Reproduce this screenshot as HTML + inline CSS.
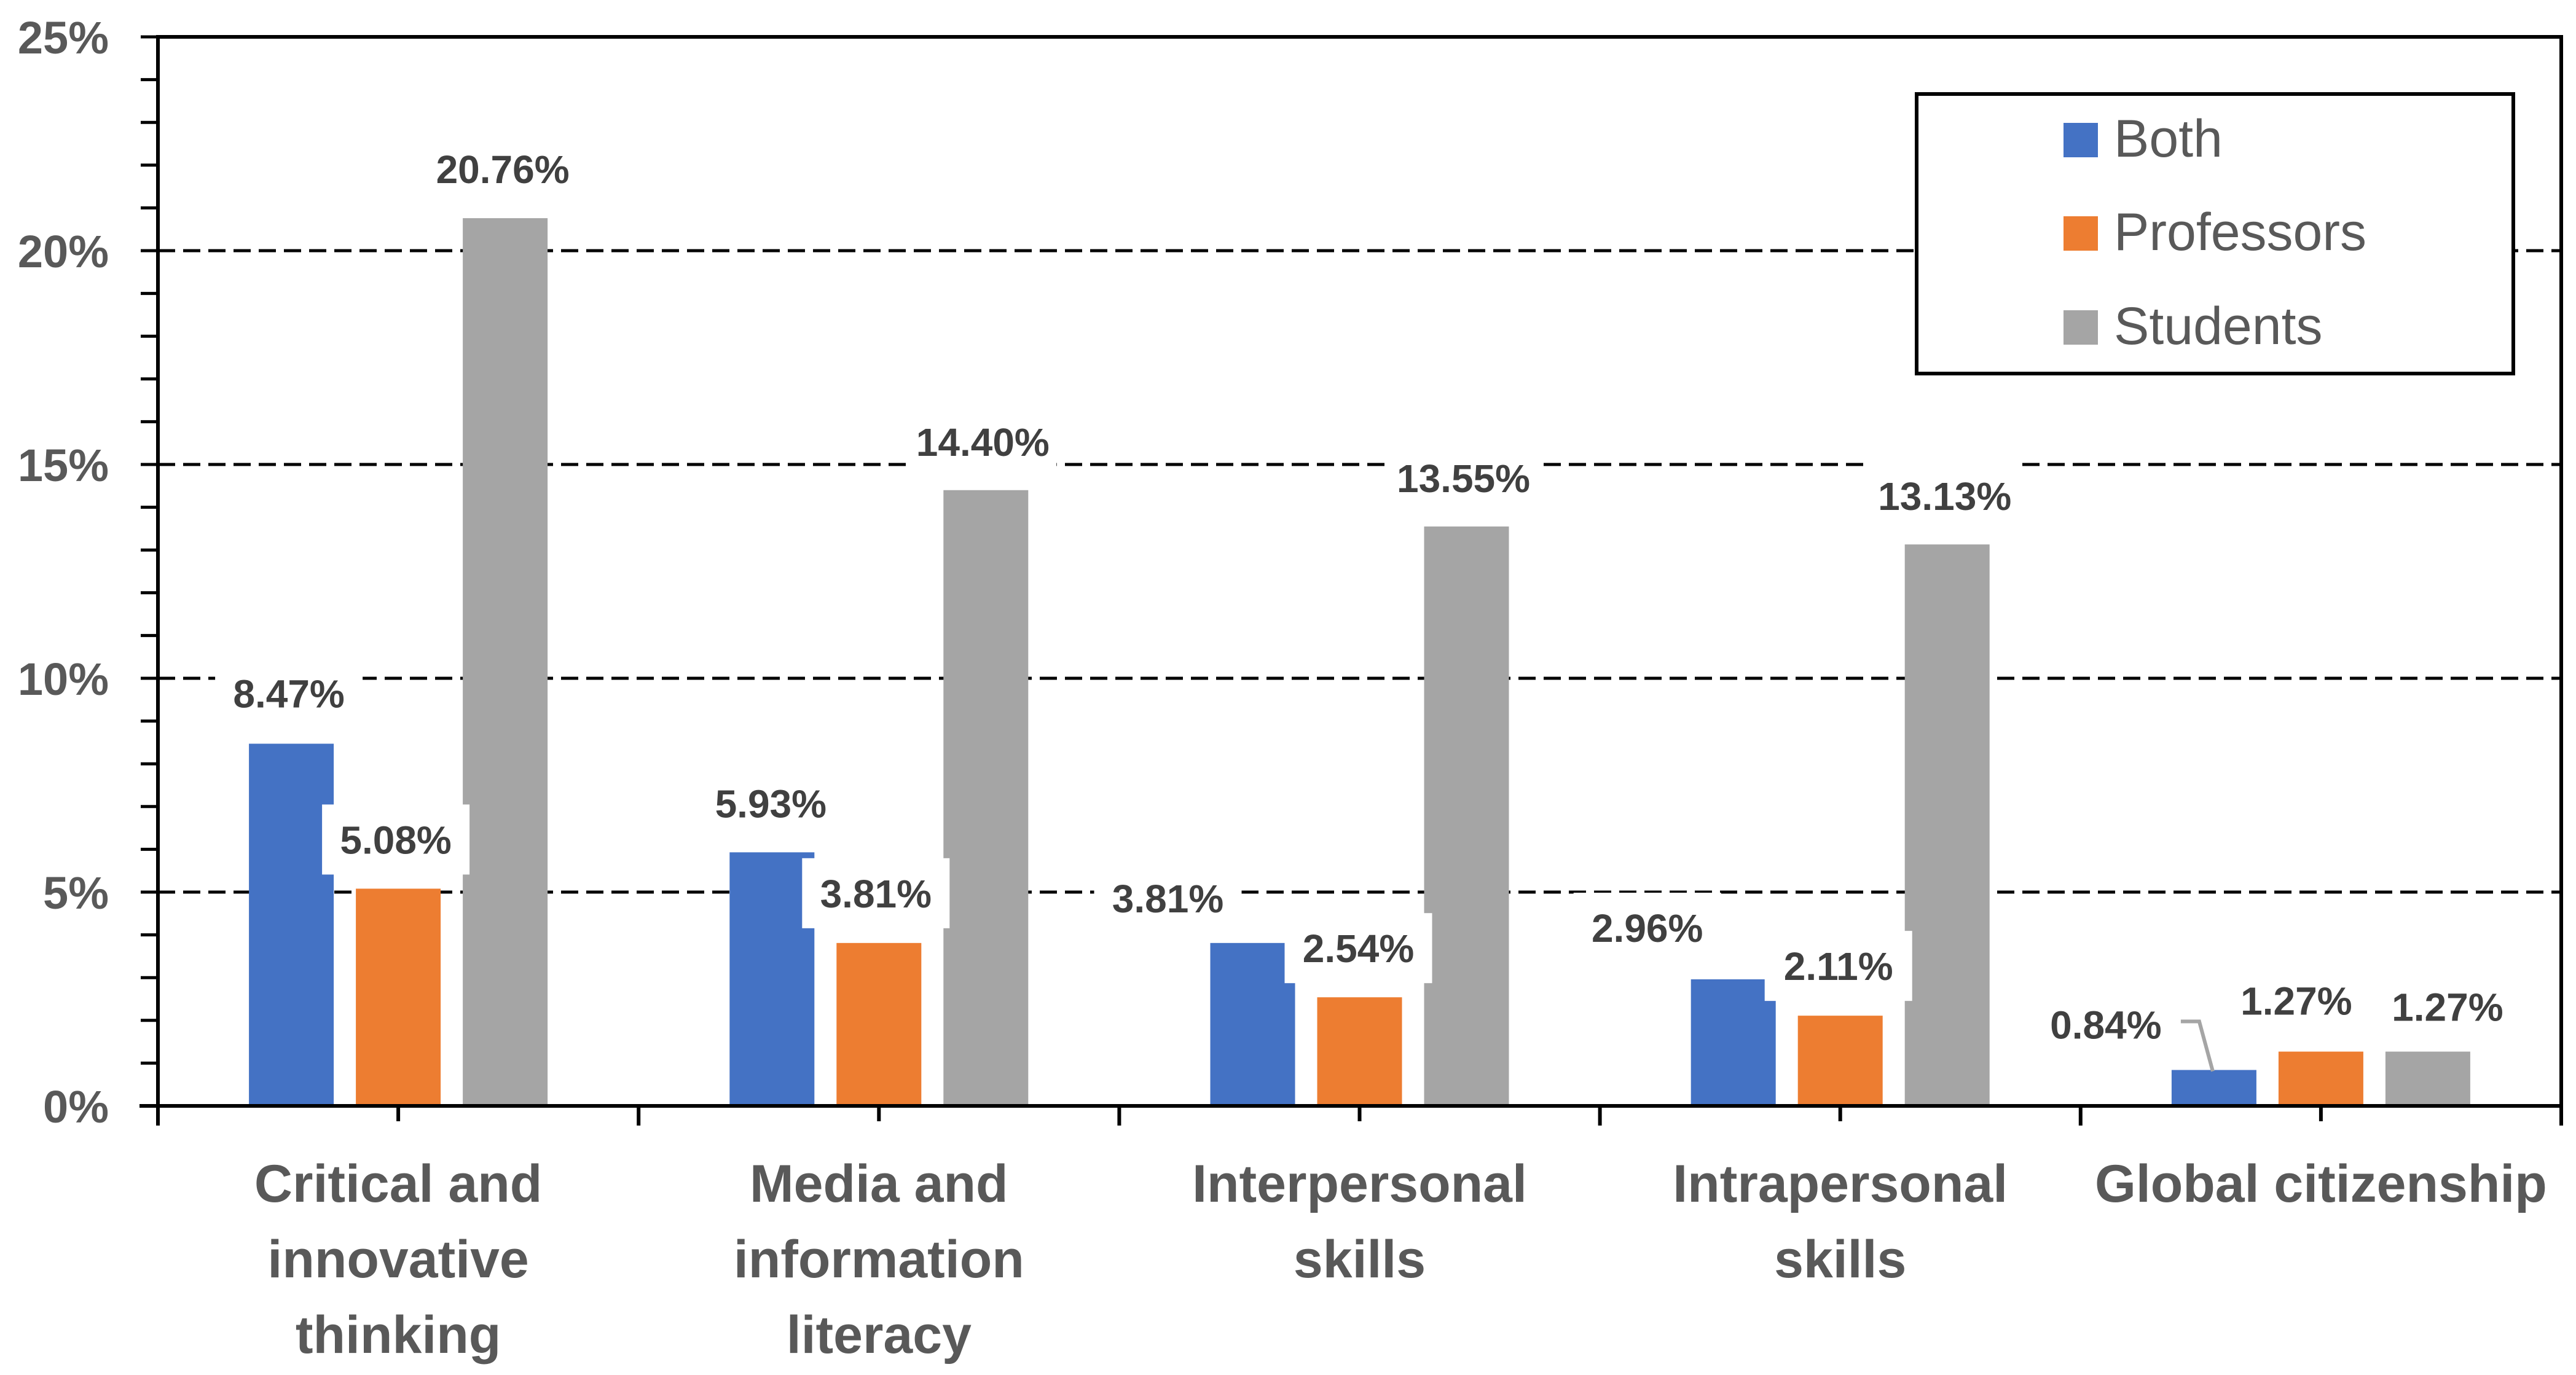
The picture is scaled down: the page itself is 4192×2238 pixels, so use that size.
<!DOCTYPE html>
<html><head><meta charset="utf-8"><style>
html,body{margin:0;padding:0;background:#fff;}
svg{display:block;font-family:"Liberation Sans",sans-serif;}
</style></head><body>
<svg id="chart" width="4192" height="2238" viewBox="0 0 4192 2238" xmlns="http://www.w3.org/2000/svg">
<rect x="0" y="0" width="4192" height="2238" fill="#fff"/>
<g id="grid"></g>
<g id="bars"></g>
<g id="axes"></g>
<g id="labels"></g>
<g id="legend">
  <rect x="3119" y="153" width="971" height="455" fill="#fff" stroke="#000" stroke-width="6"/>
  <rect x="3358" y="200" width="56" height="56" fill="#4472C4"/>
  <text x="3440" y="255" font-size="86" fill="#595959">Both</text>
  <rect x="3358" y="352" width="56" height="56" fill="#ED7D31"/>
  <text x="3440" y="407" font-size="86" fill="#595959">Professors</text>
  <rect x="3358" y="505" width="56" height="56" fill="#A5A5A5"/>
  <text x="3440" y="560" font-size="86" fill="#595959">Students</text>
</g>
</svg>
<script>
const categories = [["Critical and","innovative","thinking"],["Media and","information","literacy"],["Interpersonal","skills"],["Intrapersonal","skills"],["Global citizenship"]];
const both = [8.47, 5.93, 3.81, 2.96, 0.84];
const professors = [5.08, 3.81, 2.54, 2.11, 1.27];
const students = [20.76, 14.40, 13.55, 13.13, 1.27];
const yTicks = [0, 5, 10, 15, 20, 25];
const seriesNames = ["both","professors","students"];

const NS = "http://www.w3.org/2000/svg";
const L = 257, R = 4168, T = 60, B = 1800, YMAX = 25;
const catW = (R - L) / categories.length;
function y(v){ return B - v / YMAX * (B - T); }
function cx(i){ return L + catW * (i + 0.5); }
function mk(tag, attrs, parent){ const e = document.createElementNS(NS, tag); for (const k in attrs) e.setAttribute(k, attrs[k]); parent.appendChild(e); return e; }

const grid = document.getElementById('grid');
const bars = document.getElementById('bars');
const axes = document.getElementById('axes');
const labels = document.getElementById('labels');

yTicks.forEach(t => {
  if (t === 0 || t === YMAX) return;
  const g = mk('line', {x1:L, x2:R, y1:y(t), y2:y(t), stroke:'#000', 'stroke-width':5, 'stroke-dasharray':'28 13'}, grid);
  
  
});

const series = [both, professors, students];
const colors = ['#4472C4','#ED7D31','#A5A5A5'];
const barW = 138, gap = 36;
function barX(i, s){ return cx(i) - 1.5*barW - gap + s*(barW + gap); }
series.forEach((arr, s) => {
  arr.forEach((v, i) => {
    const r = mk('rect', {x:barX(i,s), y:y(v), width:barW, height:B - y(v), fill:colors[s]}, bars);
    
    
  });
});

const ya = mk('line', {x1:L, x2:L, y1:T-3, y2:B+30, stroke:'#000', 'stroke-width':6}, axes);


const xa = mk('line', {x1:L-30, x2:R, y1:B, y2:B, stroke:'#000', 'stroke-width':6}, axes);


const frameTop = mk('line', {x1:L, x2:R+3, y1:T, y2:T, stroke:'#000', 'stroke-width':6}, axes);


const frameR = mk('line', {x1:R, x2:R, y1:T, y2:B+30, stroke:'#000', 'stroke-width':6}, axes);


for (let v = 0; v <= YMAX; v++) {
  const tk = mk('line', {x1:L-28, x2:L, y1:y(v), y2:y(v), stroke:'#000', 'stroke-width':5}, axes);
  
  
}
yTicks.forEach(t => {
  const tx = mk('text', {x:177, y:y(t)+27, 'text-anchor':'end', 'font-size':74, 'font-weight':'bold', fill:'#595959'}, axes);
  tx.textContent = t + '%';
  
  
});
for (let i = 0; i <= categories.length; i++) {
  const bx = L + catW * i;
  const tk = mk('line', {x1:bx, x2:bx, y1:B, y2:B+32, stroke:'#000', 'stroke-width':6}, axes);
  
  
  if (i < categories.length) {
    const tc = mk('line', {x1:cx(i), x2:cx(i), y1:B, y2:B+25, stroke:'#000', 'stroke-width':6}, axes);
    
    
  }
}
categories.forEach((lines, i) => {
  const t = mk('text', {x:cx(i), 'text-anchor':'middle', 'font-size':86, 'font-weight':'bold', fill:'#595959'}, axes);
  
  
  lines.forEach((ln, k) => {
    const ts = mk('tspan', {x:cx(i), y:1956 + k*123}, t);
    ts.textContent = ln;
  });
});

// label placement offsets relative to bar-top center: [dx, dy] per category, per series
const labelOffset = [
  [[-4,-82],[-4,-80],[-4,-80]],
  [[-2,-80],[-5,-81],[-5,-79]],
  [[-138,-73],[-2,-80],[-5,-79]],
  [[-140,-84],[-3,-81],[-4,-79]],
  [[-176,-74],[-40,-83],[32,-73]]
];
series.forEach((arr, s) => {
  arr.forEach((v, i) => {
    const bx = barX(i, s) + barW/2;
    const lx = bx + labelOffset[i][s][0];
    const ly = y(v) + labelOffset[i][s][1];
    const bg = mk('rect', {x:lx-120, y:ly-57, width:240, height:114, fill:'#fff'}, labels);
    
    
    if (s === 0 && i === 4) {
      const ld = mk('polyline', {points:(lx+122)+','+(ly-5)+' '+(lx+152)+','+(ly-5)+' '+(bx-2)+','+(y(v)+2), fill:'none', stroke:'#A5A5A5', 'stroke-width':6}, labels);
      
      
    }
    const t = mk('text', {x:lx, y:ly+23, 'text-anchor':'middle', 'font-size':64, 'font-weight':'bold', fill:'#404040'}, labels);
    t.textContent = v.toFixed(2) + '%';
    
    
  });
});
</script>
</body></html>
